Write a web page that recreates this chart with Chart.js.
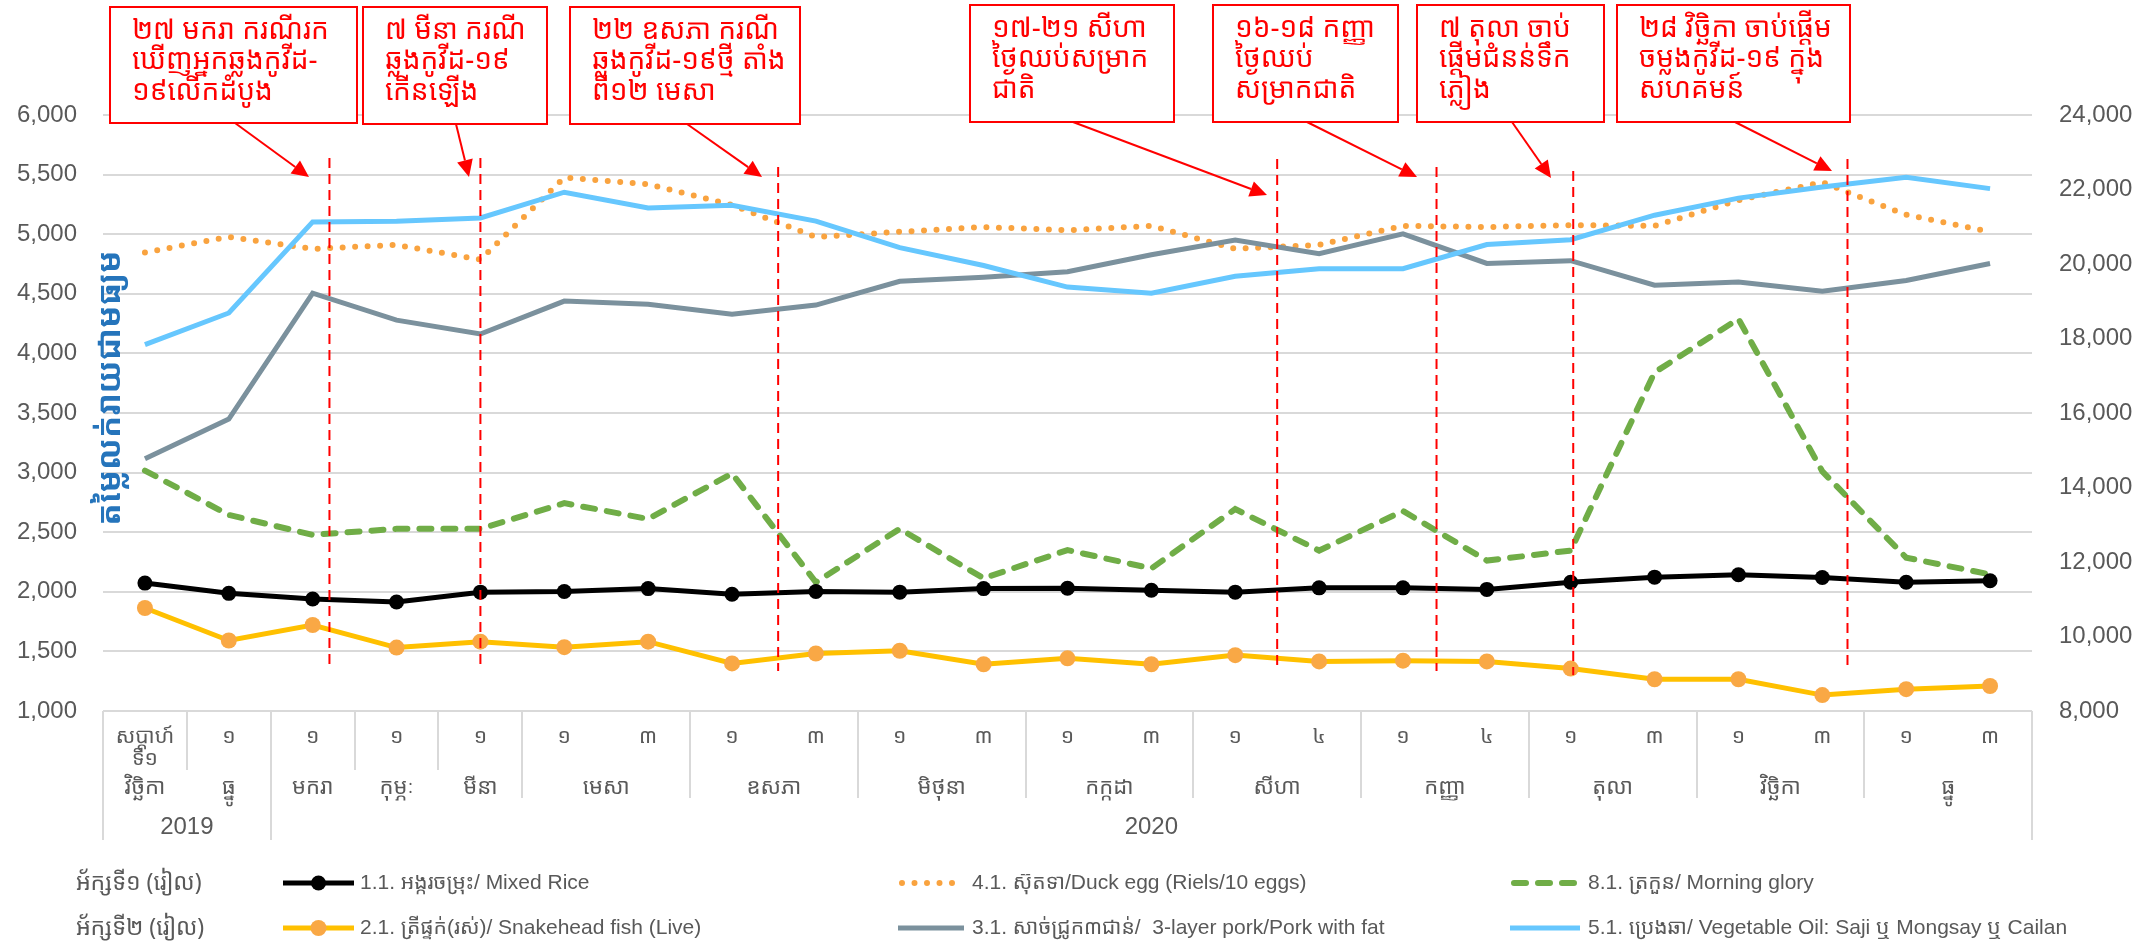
<!DOCTYPE html>
<html><head><meta charset="utf-8">
<script src="https://cdn.jsdelivr.net/npm/chart.js@4.4.1/dist/chart.umd.min.js"></script>
<style>html,body{margin:0;padding:0;background:#fff;} #wrap{width:2152px;height:947px;position:relative;}</style>
</head><body><div id="wrap"><canvas id="c" width="2152" height="947"></canvas></div>
<script>
// ---------- data ----------
const weekLabels = [['សប្តាហ៍','ទី១'],'១','១','១','១','១','៣','១','៣','១','៣','១','៣','១','៤','១','៤','១','៣','១','៣','១','៣'];
const monthLabels = ['វិច្ឆិកា','ធ្នូ','មករា','កុម្ភៈ','មីនា','មេសា','ឧសភា','មិថុនា','កក្កដា','សីហា','កញ្ញា','តុលា','វិច្ឆិកា','ធ្នូ'];
const monthCounts = [1,1,1,1,1,2,2,2,2,2,2,2,2,2];
const yearLabels = ['2019','2020'];
const yearCounts = [2,21];

const mixedRice = [2073,1987,1940,1914,1997,2003,2027,1980,2003,1997,2027,2030,2013,1997,2033,2033,2020,2080,2123,2143,2120,2080,2093];
const duckEgg = [4847,4977,4877,4910,4787,5475,5419,5245,4977,5020,5060,5033,5070,4877,4910,5070,5060,5076,5070,5286,5435,5163,5020];
const morningGlory = [3017,2645,2478,2528,2528,2744,2611,2993,2080,2528,2113,2350,2196,2694,2346,2678,2262,2346,3841,4289,3010,2286,2146];
const snakeheadFish = [10765,9893,10308,9702,9861,9713,9861,9277,9543,9617,9255,9415,9255,9500,9330,9351,9330,9139,8852,8852,8427,8586,8671];
const pork = [14773,15836,19216,18493,18121,19004,18919,18653,18898,19535,19642,19790,20247,20641,20279,20811,20014,20088,19429,19514,19270,19557,20014];
const vegOil = [17834,18685,21130,21150,21236,21927,21502,21576,21151,20439,19960,19380,19216,19673,19875,19875,20524,20651,21310,21768,22065,22331,22023];

const leftTicks = {min:1000, max:6000, step:500};
const rightTicks = {min:8000, max:24000, step:2000};

// events (category index positions) and annotation texts
const eventIndex = [2.2, 4.0, 7.55, 13.5, 15.4, 17.03, 20.3];
const eventTexts = [
  ['២៧ មករា ករណីរក','ឃើញអ្នកឆ្លងកូវីដ-','១៩លើកដំបូង'],
  ['៧ មីនា ករណី','ឆ្លងកូវីដ-១៩','កើនឡើង'],
  ['២២ ឧសភា ករណី','ឆ្លងកូវីដ-១៩ថ្មី តាំង','ពី១២ មេសា'],
  ['១៧-២១ សីហា','ថ្ងៃឈប់សម្រាក','ជាតិ'],
  ['១៦-១៨ កញ្ញា','ថ្ងៃឈប់','សម្រាកជាតិ'],
  ['៧ តុលា ចាប់','ផ្តើមជំនន់ទឹក','ភ្លៀង'],
  ['២៨ វិច្ឆិកា ចាប់ផ្តើម','ចម្លងកូវីដ-១៩ ក្នុង','សហគមន៍']
];
const axis1Label = 'អ័ក្សទី១ (រៀល)';
const axis2Label = 'អ័ក្សទី២ (រៀល)';
const yTitle = 'តម្លៃលក់រាយជាមធ្យម';

// ---------- layout / style (not data) ----------
const KH = '"Khmer OS", "Khmer OS System", "Noto Sans Khmer", "Noto Serif Khmer", "Khmer OS Battambang", "Liberation Sans", sans-serif';
const LAT = '"Liberation Sans", Arial, "Noto Sans Khmer", "Khmer OS", sans-serif';
const GREY = '#595959';
const boxes = [ // x0,x1,y0,y1, arrow start x, tip x, tip y
  [110,357,7,123, 235, 309,177],
  [363,547,7,124, 456, 469,177],
  [570,800,7,124, 687, 762,177],
  [970,1174,5,122, 1073, 1267,195],
  [1213,1398,5,122, 1307, 1417,177],
  [1417,1604,5,122, 1512, 1551,178],
  [1617,1850,5,122, 1735, 1832,171]
];
const eventLineY = [[158,664],[158,664],[167,671],[159,665],[167,671],[171,675],[159,665]];

const N = mixedRice.length;
const catLabels = weekLabels.map((l,i)=>String(i));

const datasets = [
  {label:'1.1. អង្ករចម្រុះ/ Mixed Rice', data:mixedRice, yAxisID:'y', borderColor:'#000000', backgroundColor:'#000000', borderWidth:5, pointRadius:7.5, pointBackgroundColor:'#000000', pointBorderWidth:0, order:3},
  {label:'4.1. ស៊ុតទា/Duck egg (Riels/10 eggs)', data:duckEgg, yAxisID:'y', borderColor:'#F9A33F', borderWidth:6, borderDash:[0,12.5], borderCapStyle:'round', pointRadius:0, order:4},
  {label:'8.1. ត្រកួន/ Morning glory', data:morningGlory, yAxisID:'y', borderColor:'#70AD47', borderWidth:6, borderDash:[12,12], borderCapStyle:'round', pointRadius:0, order:5},
  {label:'2.1. ត្រីផ្ទក់(រស់)/ Snakehead fish (Live)', data:snakeheadFish, yAxisID:'y2', borderColor:'#FFC000', borderWidth:5, pointRadius:8, pointBackgroundColor:'#F9A845', pointBorderWidth:0, order:2},
  {label:'3.1. សាច់ជ្រូក៣ជាន់/  3-layer pork/Pork with fat', data:pork, yAxisID:'y2', borderColor:'#7B919D', borderWidth:5, pointRadius:0, order:1},
  {label:'5.1. ប្រេងឆា/ Vegetable Oil: Saji ឬ Mongsay ឬ Cailan', data:vegOil, yAxisID:'y2', borderColor:'#66C7FE', borderWidth:5, pointRadius:0, order:0}
];
datasets.forEach(d=>{d.tension=0; d.fill=false; d.pointHoverRadius=d.pointRadius;});

function arrow(ctx, x0,y0,x1,y1){
  const a=Math.atan2(y1-y0,x1-x0), L=17, W=8;
  const bx=x1-L*Math.cos(a), by=y1-L*Math.sin(a);
  ctx.beginPath(); ctx.moveTo(x0,y0); ctx.lineTo(bx,by); ctx.stroke();
  ctx.beginPath(); ctx.moveTo(x1,y1);
  ctx.lineTo(bx+W*Math.sin(a), by-W*Math.cos(a));
  ctx.lineTo(bx-W*Math.sin(a), by+W*Math.cos(a));
  ctx.closePath(); ctx.fill();
}

const decor = {
  id:'decor',
  beforeDraw(chart){
    const ctx=chart.ctx; ctx.save(); ctx.fillStyle='#fff'; ctx.fillRect(0,0,chart.width,chart.height); ctx.restore();
  },
  afterDatasetsDraw(chart){
    const ctx=chart.ctx, xs=chart.scales.x;
    ctx.save();
    // event lines
    ctx.strokeStyle='#FF0000'; ctx.lineWidth=2; ctx.setLineDash([10,6]);
    eventIndex.forEach((ix,i)=>{
      const px=xs.getPixelForValue(ix);
      ctx.beginPath(); ctx.moveTo(px,eventLineY[i][0]); ctx.lineTo(px,eventLineY[i][1]); ctx.stroke();
    });
    ctx.setLineDash([]);
    // boxes + arrows
    boxes.forEach((b,i)=>{
      ctx.fillStyle='#fff'; ctx.fillRect(b[0],b[2],b[1]-b[0],b[3]-b[2]);
      ctx.strokeStyle='#FF0000'; ctx.lineWidth=2; ctx.strokeRect(b[0],b[2],b[1]-b[0],b[3]-b[2]);
      ctx.fillStyle='#FF0000'; ctx.font='28px '+KH; ctx.textAlign='left'; ctx.textBaseline='middle';
      eventTexts[i].forEach((t,j)=>ctx.fillText(t,b[0]+22,b[2]+24+j*30.5));
      arrow(ctx,b[4],b[3],b[5],b[6]);
    });
    // y title
    ctx.save(); ctx.translate(111,388); ctx.rotate(-Math.PI/2);
    ctx.fillStyle='#2574BB'; ctx.font='bold 33px '+KH; ctx.textAlign='center'; ctx.textBaseline='middle';
    ctx.fillText(yTitle,0,0); ctx.restore();
    // multi-level category axis
    const top=chart.chartArea.bottom;
    const bnd=k=>xs.getPixelForValue(k-0.5);
    ctx.strokeStyle='#d9d9d9'; ctx.lineWidth=2;
    const monthStarts=[0]; monthCounts.forEach(c=>monthStarts.push(monthStarts[monthStarts.length-1]+c));
    const yearStarts=[0]; yearCounts.forEach(c=>yearStarts.push(yearStarts[yearStarts.length-1]+c));
    for(let k=0;k<=N;k++){
      let bottom=null;
      if(yearStarts.includes(k)) bottom=top+129;
      else if(monthStarts.includes(k)){
        const mi=monthStarts.indexOf(k);
        bottom=(monthCounts[mi]>1||monthCounts[mi-1]>1)?top+87:top+59;
      }
      if(bottom===null) continue;
      const px=Math.round(bnd(k));
      ctx.beginPath(); ctx.moveTo(px,top); ctx.lineTo(px,bottom); ctx.stroke();
    }
    ctx.fillStyle=GREY; ctx.textAlign='center'; ctx.textBaseline='middle';
    ctx.font='21px '+KH;
    weekLabels.forEach((l,i)=>{
      const px=xs.getPixelForValue(i);
      if(Array.isArray(l)){ ctx.fillText(l[0],px,top+26); ctx.fillText(l[1],px,top+48); }
      else ctx.fillText(l,px,top+26);
    });
    ctx.font='22px '+KH;
    monthLabels.forEach((l,m)=>{
      const px=(bnd(monthStarts[m])+bnd(monthStarts[m+1]))/2;
      ctx.fillText(l,px,top+77);
    });
    ctx.font='24px '+LAT;
    yearLabels.forEach((l,m)=>{
      const px=(bnd(yearStarts[m])+bnd(yearStarts[m+1]))/2;
      ctx.fillText(l,px,top+116);
    });
    // legend
    const rowsY=[883,928];
    ctx.textAlign='left'; ctx.font='23px '+KH; ctx.fillStyle=GREY;
    ctx.fillText(axis1Label,76,rowsY[0]); ctx.fillText(axis2Label,76,rowsY[1]);
    const cols=[[283,354,360],[898,964,972],[1510,1580,1588]];
    const order=[[0,1,2],[3,4,5]];
    order.forEach((row,r)=>row.forEach((di,c)=>{
      const d=chart.data.datasets[di], y=rowsY[r], col=cols[c];
      ctx.strokeStyle=d.borderColor; ctx.lineWidth=d.borderWidth; ctx.lineCap=d.borderCapStyle||'butt';
      ctx.setLineDash(d.borderDash||[]);
      ctx.beginPath(); ctx.moveTo(col[0]+(d.borderDash?4:0),y); ctx.lineTo(col[1],y); ctx.stroke();
      ctx.setLineDash([]); ctx.lineCap='butt';
      if(d.pointRadius>0){ ctx.fillStyle=d.pointBackgroundColor; ctx.beginPath(); ctx.arc((col[0]+col[1])/2,y,d.pointRadius,0,Math.PI*2); ctx.fill(); }
      ctx.fillStyle=GREY; ctx.font='21px '+LAT; ctx.textBaseline='middle';
      ctx.fillText(d.label,col[2],y);
    }));
    ctx.restore();
  }
};

new Chart(document.getElementById('c'),{
  type:'line',
  data:{labels:catLabels, datasets},
  options:{
    responsive:false, animation:false, devicePixelRatio:1,
    layout:{padding:{top:115,bottom:236,left:0,right:0}},
    plugins:{legend:{display:false}, tooltip:{enabled:false}},
    events:[],
    scales:{
      x:{type:'category', display:false, offset:true},
      y:{position:'left', min:leftTicks.min, max:leftTicks.max,
         ticks:{stepSize:leftTicks.step, padding:26, color:GREY, font:{family:LAT,size:24}},
         grid:{color:'#d9d9d9', lineWidth:2, drawTicks:false}, border:{display:false},
         afterFit:s=>{s.width=103;}},
      y2:{position:'right', min:rightTicks.min, max:rightTicks.max,
         ticks:{stepSize:rightTicks.step, padding:27, color:GREY, font:{family:LAT,size:24}},
         grid:{drawOnChartArea:false, drawTicks:false}, border:{display:false},
         afterFit:s=>{s.width=120;}}
    }
  },
  plugins:[decor]
});
</script></body></html>
